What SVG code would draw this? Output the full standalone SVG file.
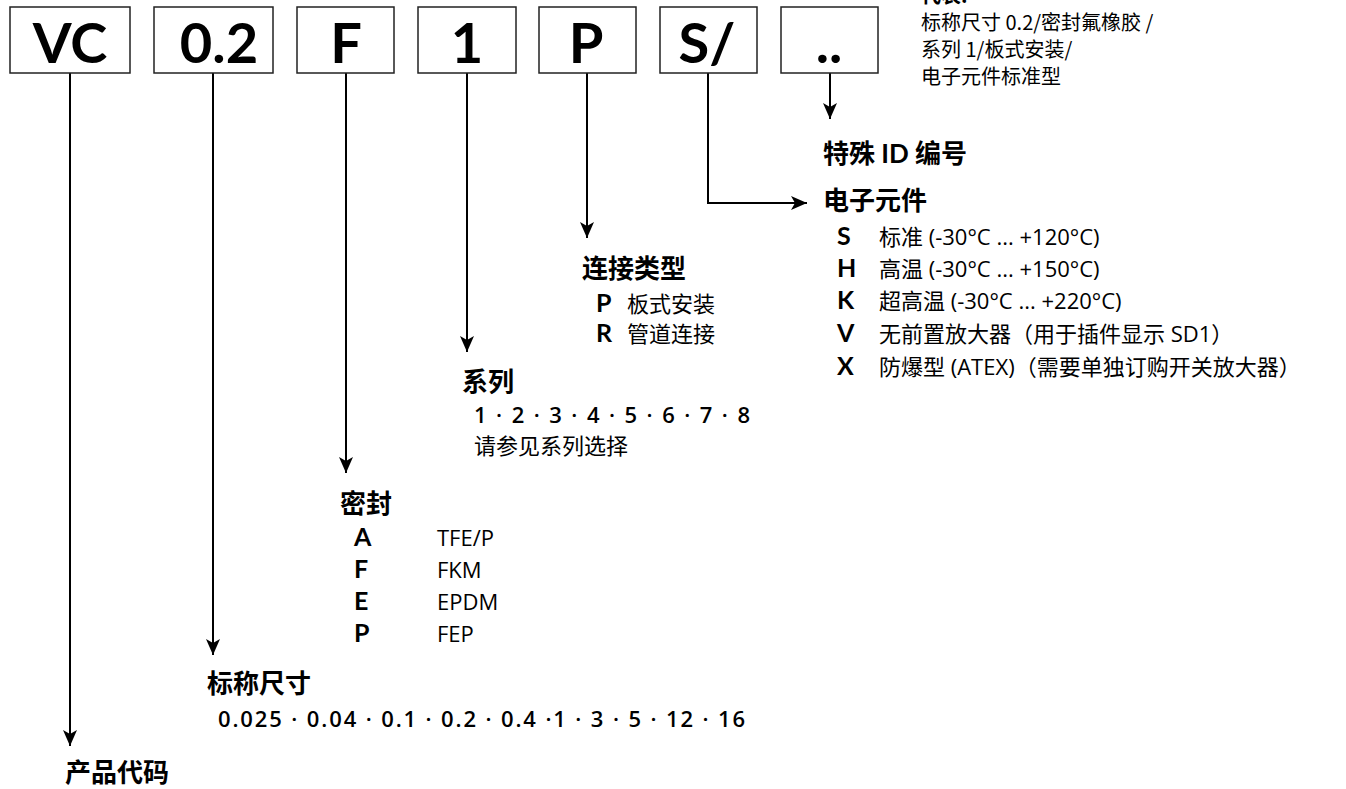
<svg xmlns="http://www.w3.org/2000/svg" width="1346" height="789" viewBox="0 0 1346 789">
<style>
  .box { fill: #ffffff; stroke: #222; stroke-width: 1.5; }
  .code { font-family: Lato, "Noto Sans CJK SC", sans-serif; font-weight: 700; font-size: 56px; fill: #000; text-anchor: middle; }
  .head { font-family: Lato, "Noto Sans CJK SC", sans-serif; font-weight: 700; font-size: 26px; fill: #000; }
  .key { font-family: Lato, "Noto Sans CJK SC", sans-serif; font-weight: 700; font-size: 25px; fill: #000; }
  .body { font-family: "Open Sans", "Noto Sans CJK SC", sans-serif; font-weight: 400; font-size: 22px; fill: #000; }
  .num { font-family: "Open Sans", "Noto Sans CJK SC", sans-serif; font-weight: 600; font-size: 22px; fill: #000; }
  .note { font-family: "Noto Sans CJK SC", sans-serif; font-weight: 400; font-size: 20px; fill: #000; }
  .noteb { font-family: "Noto Sans CJK SC", sans-serif; font-weight: 700; font-size: 20px; fill: #000; }
  .line { fill: none; stroke: #000; stroke-width: 2; }
</style>
<defs>
  <marker id="arr" markerUnits="userSpaceOnUse" markerWidth="18" markerHeight="14" refX="16" refY="7" orient="auto">
    <path d="M0,0 L16,7 L0,14 L4,7 z" fill="#000"/>
  </marker>
</defs>
<rect width="1346" height="789" fill="#ffffff"/>

<g id="connectors">
  <path class="line" d="M70,73 V746" marker-end="url(#arr)"/>
  <path class="line" d="M213,73 V655" marker-end="url(#arr)"/>
  <path class="line" d="M346,73 V473" marker-end="url(#arr)"/>
  <path class="line" d="M467,73 V352" marker-end="url(#arr)"/>
  <path class="line" d="M587,73 V238" marker-end="url(#arr)"/>
  <path class="line" d="M708,73 V203 H807" marker-end="url(#arr)"/>
  <path class="line" d="M830,73 V119" marker-end="url(#arr)"/>
</g>

<g id="box-vc"><rect class="box" x="10" y="7" width="120" height="66"/><text class="code" x="70" y="63">VC</text></g>
<g id="box-size"><rect class="box" x="154" y="7" width="119" height="66"/><text class="code" x="219" y="63">0.2</text></g>
<g id="box-seal"><rect class="box" x="297" y="7" width="97" height="66"/><text class="code" x="346" y="63">F</text></g>
<g id="box-series"><rect class="box" x="418" y="7" width="98" height="66"/><text class="code" x="467" y="63">1</text></g>
<g id="box-conn"><rect class="box" x="539" y="7" width="97" height="66"/><text class="code" x="586" y="63">P</text></g>
<g id="box-elec"><rect class="box" x="660" y="7" width="97" height="66"/><text class="code" x="707" y="63">S/</text></g>
<g id="box-id"><rect class="box" x="781" y="7" width="97" height="66"/><text class="code" x="829" y="63">..</text></g>

<g id="example-note">
  <text class="noteb" x="921" y="3">代表:</text>
  <text class="note" x="921" y="30">标称尺寸 0.2/密封氟橡胶 /</text>
  <text class="note" x="921" y="57">系列 1/板式安装/</text>
  <text class="note" x="921" y="84">电子元件标准型</text>
</g>

<g id="special-id">
  <text class="head" x="823" y="163">特殊 ID 编号</text>
</g>

<g id="electronics">
  <text class="head" x="823" y="210">电子元件</text>
  <text class="key" x="837" y="245">S</text><text class="body" x="879" y="245">标准 (-30°C ... +120°C)</text>
  <text class="key" x="837" y="277">H</text><text class="body" x="879" y="277">高温 (-30°C ... +150°C)</text>
  <text class="key" x="837" y="309">K</text><text class="body" x="879" y="309">超高温 (-30°C ... +220°C)</text>
  <text class="key" x="837" y="342">V</text><text class="body" x="879" y="342">无前置放大器（用于插件显示 SD1）</text>
  <text class="key" x="837" y="375">X</text><text class="body" x="879" y="375">防爆型 (ATEX)（需要单独订购开关放大器）</text>
</g>

<g id="connection">
  <text class="head" x="582" y="278">连接类型</text>
  <text class="key" x="596" y="312">P</text><text class="body" x="627" y="312">板式安装</text>
  <text class="key" x="596" y="342">R</text><text class="body" x="627" y="342">管道连接</text>
</g>

<g id="series">
  <text class="head" x="462" y="391">系列</text>
  <text class="num" x="474" y="423" textLength="276" lengthAdjust="spacing">1 · 2 · 3 · 4 · 5 · 6 · 7 · 8</text>
  <text class="body" x="474" y="454">请参见系列选择</text>
</g>

<g id="seal">
  <text class="head" x="340" y="513">密封</text>
  <text class="key" x="354" y="546">A</text><text class="body" x="437" y="546">TFE/P</text>
  <text class="key" x="354" y="578">F</text><text class="body" x="437" y="578">FKM</text>
  <text class="key" x="354" y="610">E</text><text class="body" x="437" y="610">EPDM</text>
  <text class="key" x="354" y="642">P</text><text class="body" x="437" y="642">FEP</text>
</g>

<g id="nominal-size">
  <text class="head" x="207" y="693">标称尺寸</text>
  <text class="num" x="218" y="727" textLength="527" lengthAdjust="spacing">0.025 · 0.04 · 0.1 · 0.2 · 0.4 ·1 · 3 · 5 · 12 · 16</text>
</g>

<g id="product-code">
  <text class="head" x="65" y="782">产品代码</text>
</g>
</svg>
